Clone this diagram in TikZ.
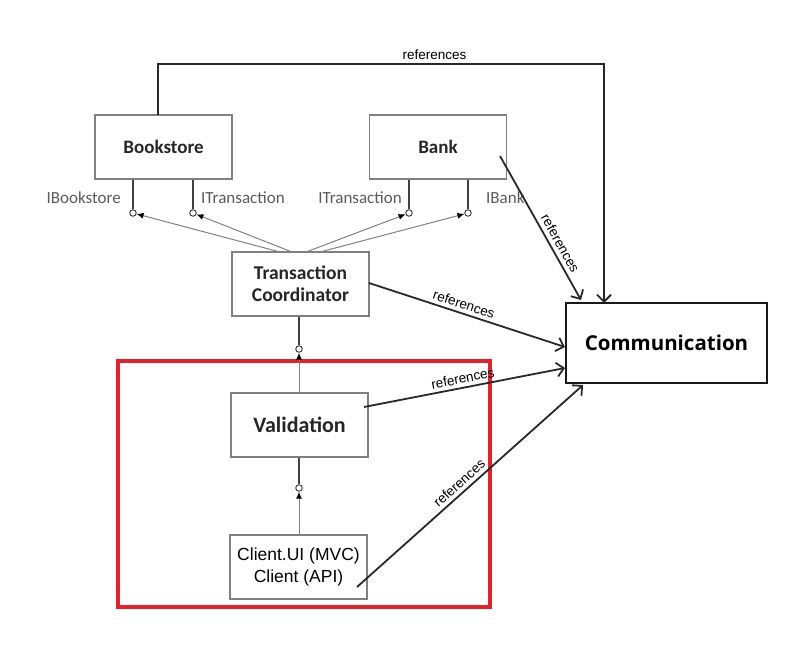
\documentclass[tikz,border=0pt]{standalone}
\usepackage{fontspec}
\setmainfont{Carlito}
\newfontfamily\reffont{Liberation Sans}
\newfontfamily\commfont{Open Sans}
\usetikzlibrary{arrows.meta}
\definecolor{boxgray}{RGB}{128,128,128}
\definecolor{refline}{RGB}{40,40,40}
\definecolor{ifgray}{RGB}{90,90,90}
\definecolor{redframe}{RGB}{232,30,40}
\tikzset{
  comp/.style={draw=boxgray, line width=1.1pt, minimum width=137pt, minimum height=64pt, inner sep=0pt, font=\fontsize{19}{22}\selectfont\bfseries, align=center, text=black!85},
  lolli/.style={circle, draw=black!80, fill=white, line width=0.9pt, minimum size=6.5pt, inner sep=0pt},
  stem/.style={draw=black!75, line width=1.6pt},
  req/.style={draw=boxgray, line width=1pt, -{Latex[length=7pt,width=6pt,fill=black,color=black]}},
  refarrow/.style={draw=refline, line width=1.8pt, -{Straight Barb[length=7pt,width=14pt,line width=1.8pt]}},
  reflabel/.style={font=\reffont\fontsize{13.5}{15}\selectfont, text=black, inner sep=1pt},
  iflabel/.style={font=\fontsize{17}{19}\selectfont, text=ifgray, inner sep=0pt}
}
\begin{document}
\begin{tikzpicture}[x=1pt,y=-1pt]
\useasboundingbox (0,0) rectangle (793,648);
% components
\node[comp] (bs) at (163.5,147) {Bookstore};
\node[comp] (bank) at (438,147) {Bank};
\node[comp, font=\fontsize{19.5}{22}\selectfont\bfseries] (tc) at (300.5,284) {Transaction\\Coordinator};
\node[comp, font=\fontsize{22}{24}\selectfont\bfseries] (val) at (299.5,425) {Validation};
\node[comp, font=\reffont\fontsize{17.5}{22}\selectfont, text=black] (cl) at (298.5,567) {Client.UI (MVC)\\Client (API)};
\node[draw=black!90, line width=2pt, minimum width=201pt, minimum height=80pt, inner sep=0pt, font=\commfont\fontsize{20.5}{24}\selectfont\bfseries] (comm) at (666.5,343) {Communication};
% red frame
\draw[redframe, line width=4pt] (118,361) rectangle (490,607);
% lollipops
\node[lolli] (l1) at (133,213) {};
\node[lolli] (l2) at (193,213) {};
\node[lolli] (l3) at (409,213) {};
\node[lolli] (l4) at (468,213) {};
\draw[stem] (bs.south -| l1) -- (l1);
\draw[stem] (bs.south -| l2) -- (l2);
\draw[stem] (bank.south -| l3) -- (l3);
\draw[stem] (bank.south -| l4) -- (l4);
\node[iflabel, anchor=east] (if1) at (121,198) {IBookstore};
\node[iflabel, anchor=west] (if2) at (201,198) {ITransaction};
\node[iflabel, anchor=east] (if3) at (402,198) {ITransaction};
\node[iflabel, anchor=west] (if4) at (486,198) {IBank};
\coordinate (t1) at (280,252);
\coordinate (t2) at (292,252);
\coordinate (t3) at (306,252);
\coordinate (t4) at (320,252);
\draw[req] (t1) -- (l1);
\draw[req] (t2) -- (l2);
\draw[req] (t3) -- (l3);
\draw[req] (t4) -- (l4);
% vertical lollipops
\node[lolli] (c1) at (299,349) {};
\node[lolli] (c2) at (299,488) {};
\draw[stem] (tc.south -| c1) -- (c1);
\draw[stem] (val.south -| c2) -- (c2);
\draw[req] (val.north -| c1) -- (c1);
\draw[req] (cl.north -| c2) -- (c2);
% references
\coordinate (bstop) at (158,115);
\coordinate (commtop) at (604,303);
\draw[refarrow] (bstop) -- (158,64) -- node[reflabel, above=2pt, pos=0.62] {references} (604,64) -- (commtop);
\coordinate (bankref) at (500,156);
\coordinate (bankend) at (581,300);
\draw[refarrow] (bankref) -- node[reflabel, sloped, above=3pt, pos=0.64] {references} (bankend);
\coordinate (tcref) at (369,283);
\coordinate (tcend) at (565,347);
\draw[refarrow] (tcref) -- node[reflabel, sloped, above=2.5pt, pos=0.47] {references} (tcend);
\coordinate (valref) at (364,407);
\coordinate (valend) at (565,368);
\draw[refarrow] (valref) -- node[reflabel, sloped, above=2.5pt, pos=0.5] {references} (valend);
\coordinate (clref) at (357,587);
\coordinate (clend) at (583,385);
\draw[refarrow] (clref) -- node[reflabel, sloped, above=2.5pt, pos=0.48] {references} (clend);
\end{tikzpicture}
\end{document}
